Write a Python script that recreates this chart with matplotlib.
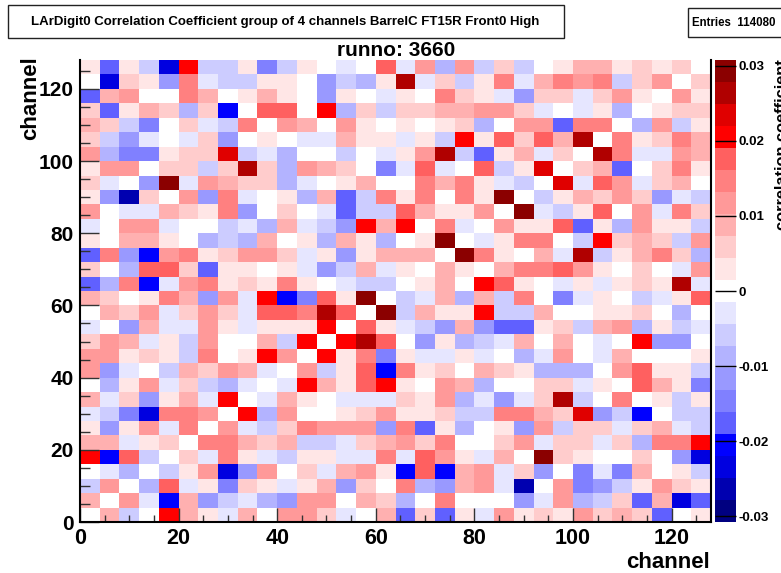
#!/usr/bin/env python3
"""Correlation coefficient map for one LArDigit channel group."""

import matplotlib
matplotlib.use("Agg")
import matplotlib.pyplot as plt
from matplotlib.colors import BoundaryNorm, ListedColormap
from matplotlib.patches import Rectangle
from matplotlib.ticker import MultipleLocator
import numpy as np

plt.rcParams["font.family"] = ["Liberation Sans", "DejaVu Sans"]
plt.rcParams["font.weight"] = "bold"
plt.rcParams["axes.unicode_minus"] = False

# colour level of each 4x4 channel group, top row (channel 124-128) first
levels = [
    [1, -6, 1, -2, -8, 7, -2, -2, 1, -5, -2, 1, 0, -1, 0, 6, -1, 4, -3, 4, -2, 2, -2, 0, 1, 3, 3, 1, 2, 1, 2, 0],
    [0, -8, 2, 1, -4, 5, -1, -2, -2, 1, 1, 0, -4, -2, -3, 1, 9, -1, 2, -2, 1, 5, -1, 3, 5, 4, 5, -2, 2, 4, 0, 2],
    [-6, 3, 4, 0, 0, 5, 3, 0, 1, 3, 1, 0, -4, 1, 0, -1, 1, 0, 5, 2, 1, -1, -4, 2, 2, -1, 2, 4, 1, 0, 4, 1],
    [2, -6, 1, 3, 2, -3, 2, -7, 0, 6, 6, 0, 7, -3, 2, -2, 2, 2, 3, 3, 4, 4, 2, -1, 0, -1, 1, -3, 0, 1, 2, 2],
    [3, 2, -2, -5, 0, 2, -1, -2, 5, 0, 4, 3, 0, 4, 1, 0, 1, 0, 1, 2, -3, 0, 4, 4, -6, 5, 5, 0, -3, 4, -2, 1],
    [2, -2, -4, -1, 0, -1, 2, -4, 0, 1, 0, -1, -1, 3, 1, 1, -1, 1, -2, 7, 1, 6, 2, 6, 3, 9, 0, 5, 1, 2, 5, 3],
    [4, -3, -5, -5, 1, 2, 2, 8, -2, -1, -3, 0, 0, -2, 0, -1, 1, 4, 9, -2, -6, 1, 3, -1, 2, 0, 9, 5, -1, -1, 4, 3],
    [1, 4, 4, 0, 2, 2, -2, 2, 9, 2, -3, 4, 3, 2, 0, -5, -1, 6, -1, 0, 6, -2, 1, 8, 0, 2, 3, -6, 0, 2, 5, 1],
    [2, -1, 0, -4, 10, -1, 4, 3, 2, 2, -3, -1, 0, 1, 3, 0, 0, 5, 3, 5, 1, -1, -2, 0, 8, -1, 6, 4, -1, 2, 3, 0],
    [1, -4, -9, 2, 0, 4, -4, 5, -1, 0, 1, -3, 3, -6, -2, 5, 1, 5, 0, 5, 1, 10, 0, -2, 1, 3, 2, 4, 2, -4, -1, -2],
    [4, 0, -1, -1, 3, 2, 1, 5, -4, 0, 2, 0, -1, -6, -2, -2, 6, 3, 1, 1, 4, 0, 10, -1, -2, 1, 6, 0, 4, -1, 5, 2],
    [-1, 0, 4, 4, -1, 0, 0, -2, -1, -3, 3, -1, -2, -4, 7, 3, 7, 0, 5, -1, 0, 4, 1, 1, 6, -6, 1, -3, 4, 1, 1, -2],
    [1, 0, 3, 3, 1, 0, -3, -2, -3, 3, 0, 1, -3, 3, 1, -3, 0, 1, 10, 0, -1, 1, 5, 5, 0, -2, 7, 2, 3, 2, -2, 4],
    [-6, 5, -4, -7, 4, 5, 1, 2, 4, 4, 2, -1, 1, -4, 1, 3, 3, 3, 0, 10, 5, 1, 0, 3, -1, 9, -2, 1, 3, 5, 2, -3],
    [2, 0, -3, 6, 6, 2, -6, 1, 1, 0, 1, -1, -4, -2, 3, -1, 1, 0, 3, 1, 0, 3, 5, 5, 6, 4, 1, 0, 2, 0, -1, 4],
    [-6, -3, 5, -7, -1, 4, 5, 1, 2, 1, 5, 1, 0, -1, -2, -2, 0, 1, 3, 0, 7, 6, 1, 0, -1, 1, -1, 1, 2, 1, 9, -1],
    [3, 2, 0, 1, 5, 3, -4, 4, -1, 7, -7, -5, 6, 1, 10, 0, -2, -1, 3, -3, 3, -2, 5, 0, -5, -1, 1, 0, -2, -1, 1, 6],
    [0, 3, 2, 4, -1, 2, 4, 2, -1, 6, 6, 5, 9, 6, 0, 10, -2, 3, 1, 1, 7, -2, -2, 3, 0, 0, 1, 1, 2, 0, -3, 0],
    [-1, 0, -4, 3, -1, -1, 4, 1, -1, 1, 1, 1, 7, 0, 6, 1, -1, -2, -4, 3, -4, -6, -6, 1, 2, -2, 3, 4, -3, 1, -2, -1],
    [2, 4, 3, -1, 1, -2, 4, 0, 0, 3, -2, 7, 0, 7, 9, 6, 0, -4, 1, -3, -2, -1, 3, 0, 3, 0, -1, 0, 7, -4, -4, 0],
    [4, 4, 1, 2, 1, -2, 5, 0, 1, 7, 4, 0, 7, 1, 5, -5, 1, -1, -1, 1, -1, 0, -3, -1, 4, 0, -1, 3, 0, 0, 0, 1],
    [4, -4, -1, 0, -2, 3, 2, 4, 3, -1, 0, 4, -2, 1, 6, -7, 5, 1, 2, 0, 3, 2, 1, -3, -3, -3, 0, 4, 6, 1, 1, -2],
    [0, -3, 1, 4, -1, 2, -2, -3, -1, 0, -1, 7, 3, 1, 6, 7, 1, 0, 4, 3, -3, 0, 0, 2, 2, -1, 1, 0, 6, 3, 1, -5],
    [3, -1, 2, -4, 1, 3, -1, 7, 0, -1, 3, 1, 0, -1, -1, -1, 2, 1, 4, -3, -1, -4, -1, 2, 9, -2, 0, 5, 0, 1, -2, 1],
    [-1, -2, -5, -8, 5, 5, 4, 0, 7, -3, 4, 0, 0, 1, 2, 4, 1, 1, 2, -2, -2, 5, 5, 3, 2, 8, -4, -2, -7, 0, -2, -2],
    [1, -4, 1, 4, -1, 5, 0, 4, -1, -2, 2, 5, 4, 4, 4, -4, 5, -6, 1, -3, 0, 1, -4, 4, -2, 2, 2, -1, 2, 3, -1, -2],
    [3, 3, -1, 1, 2, 0, 5, 5, 3, 2, 3, -2, -2, -1, 2, 3, 4, 2, 5, 0, 0, 2, 4, -1, 2, 2, -1, 2, -3, 5, 5, 7],
    [7, -7, 6, -2, 0, 2, -1, 5, 1, -1, -2, 1, 1, -1, -1, 5, -1, 6, 4, 1, -1, 3, 0, 10, 2, 1, 0, 0, 2, 0, -4, -8],
    [0, -1, -3, 0, -2, 1, 4, -8, -4, 4, 0, 2, -1, 3, 4, 1, -7, 6, -7, 3, 4, -1, 2, -4, 0, -5, -1, -5, 3, 0, 1, -2],
    [-2, 4, 0, -3, 6, -1, 1, -5, 2, 1, -1, 1, 3, -4, 2, 0, 5, -3, -4, 3, 4, -1, -9, 0, 4, -5, -4, -2, 1, 4, 2, 1],
    [3, 0, 4, -1, -7, 3, -4, -2, -1, -3, -4, 4, 4, 0, 3, 2, -3, 0, 5, 0, 0, 0, -4, -1, 4, -3, -2, 2, -6, 3, -8, -6],
    [0, 3, -2, 0, 7, 3, 1, -1, 3, 0, 4, 4, 2, -1, 0, 3, -6, 2, -6, 1, -1, 4, 1, 2, 1, 4, 2, 3, 2, -6, 0, 1],
]
level_step = 0.00293

palette = [
    "#000080", "#0000b0", "#0000e0", "#0000ff", "#6060ff", "#8080ff", "#9999ff",
    "#b3b3ff", "#ccccff", "#e6e6ff", "#ffffff", "#ffe6e6", "#ffcccc", "#ffb0b0",
    "#ff9999", "#ff8080", "#ff6060", "#ff0000", "#e00000", "#b00000", "#8b0000",
]
cbar_ticks = [-0.03, -0.02, -0.01, 0, 0.01, 0.02, 0.03]
cbar_labels = ["-0.03", "-0.02", "-0.01", "0", "0.01", "0.02", "0.03"]
title_text = "LArDigit0 Correlation Coefficient group of 4 channels BarrelC FT15R Front0 High"
entries_text = "Entries  114080"
run_text = "runno: 3660"

W, H = 781, 573


def fig_box(x0, y0, x1, y1):
    """Pixel box (y down) to figure fractions."""
    return [x0 / W, 1 - y1 / H, (x1 - x0) / W, (y1 - y0) / H]


def add_label_box(fig, x0, y0, x1, y1, text, size, cx):
    l, b, w, h = fig_box(x0, y0, x1, y1)
    fig.add_artist(Rectangle((l, b), w, h, transform=fig.transFigure, fc="white", ec="#222222", lw=1.0))
    fig.text(cx / W, b + h / 2, text, ha="center", va="center", fontsize=size)


def main():
    fig = plt.figure(figsize=(W / 100, H / 100), dpi=100)
    ax = fig.add_axes(fig_box(80, 60, 711, 522))

    corr = np.array(levels[::-1]) * level_step
    edges = np.arange(0, 129, 4)
    bounds = (np.arange(len(palette) + 1) - 10.5) * level_step
    cmap = ListedColormap(palette)
    norm = BoundaryNorm(bounds, cmap.N)
    mesh = ax.pcolormesh(edges, edges, corr, cmap=cmap, norm=norm)

    ax.set_xlim(0, 128)
    ax.set_ylim(0, 128)
    ax.spines["top"].set_visible(False)
    for side in ["left", "bottom", "right"]:
        ax.spines[side].set_linewidth(1.5)

    ax.xaxis.set_major_locator(MultipleLocator(20))
    ax.xaxis.set_minor_locator(MultipleLocator(5))
    ax.yaxis.set_major_locator(MultipleLocator(20))
    ax.yaxis.set_minor_locator(MultipleLocator(5))
    ax.tick_params(axis="x", which="major", direction="in", length=10, width=1, color="#333333", labelsize=15.5, pad=4)
    ax.tick_params(axis="x", which="minor", direction="in", length=5, width=1, color="#333333")
    ax.tick_params(axis="y", which="major", direction="in", length=14, width=1, color="#333333", labelsize=15, pad=4.5)
    ax.tick_params(axis="y", which="minor", direction="in", length=7, width=1, color="#333333")

    fig.text(710 / W, 1 - 562 / H, "channel", ha="right", va="center", fontsize=16)
    fig.text(31 / W, 1 - 140 / H, "channel", rotation=90, ha="center", va="bottom", fontsize=16)
    fig.text(396 / W, 1 - 50 / H, run_text, ha="center", va="center", fontsize=15)

    add_label_box(fig, 8, 5, 564, 38, title_text, 9.55, 285)
    add_label_box(fig, 688, 8, 795, 37, entries_text, 8.3, 734)

    cax = fig.add_axes(fig_box(715, 60, 736, 522))
    cbar = fig.colorbar(mesh, cax=cax, ticks=cbar_ticks, spacing="proportional")
    cbar.ax.set_yticklabels(cbar_labels)
    cbar.ax.tick_params(direction="in", length=15, width=1, color="black", labelsize=9.5, pad=2)
    cbar.ax.minorticks_off()
    cbar.outline.set_visible(False)
    cax.spines["left"].set_visible(False)
    # runs off the right edge of the canvas, as in the original plot
    fig.text(775 / W, 1 - 230 / H, "correlation coefficient", rotation=90, ha="left", va="bottom", fontsize=11.8)

    fig.savefig("out.png", dpi=100)


if __name__ == "__main__":
    main()
